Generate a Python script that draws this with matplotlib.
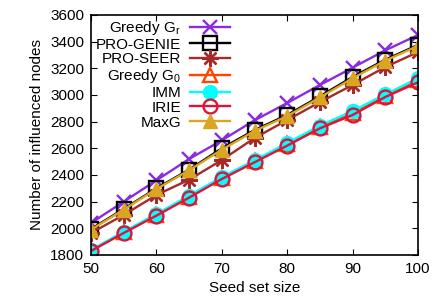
import numpy as np
import matplotlib
matplotlib.use('Agg')
import matplotlib.pyplot as plt

plt.rcParams['font.family'] = ['Liberation Sans', 'DejaVu Sans']
plt.rcParams['mathtext.fontset'] = 'custom'
plt.rcParams['mathtext.rm'] = 'Liberation Sans'
plt.rcParams['mathtext.it'] = 'Liberation Sans'

seeds = [50, 55, 60, 65, 70, 75, 80, 85, 90, 95, 100]
greedy_gr = [2040, 2200, 2360, 2520, 2660, 2810, 2940, 3075, 3205, 3335, 3450]
pro_genie = [1995, 2145, 2300, 2440, 2600, 2737, 2850, 2990, 3135, 3265, 3375]
pro_seer = [1965, 2100, 2250, 2365, 2512, 2677, 2812, 2947, 3075, 3210, 3322]
greedy_g0 = [1835, 1970, 2100, 2238, 2378, 2502, 2630, 2760, 2865, 2995, 3110]
imm = [1838, 1975, 2108, 2245, 2385, 2510, 2640, 2770, 2880, 3005, 3125]
irie = [1830, 1965, 2095, 2230, 2370, 2495, 2620, 2750, 2850, 2985, 3095]
maxg = [1990, 2140, 2295, 2435, 2590, 2730, 2842, 2982, 3125, 3258, 3368]

fig = plt.figure(figsize=(4.35, 3.03), dpi=100)
ax = fig.add_axes([91/435, 48/303, 327/435, 240/303])

ms = 10
lw = 1.7
ax.plot(seeds, greedy_gr, color='#8a2be2', marker='x', ms=ms, mew=1.7, lw=lw, label='Greedy G$_r$')
ax.plot(seeds, pro_genie, color='black', marker='s', mfc='none', ms=ms, mew=1.7, lw=lw, label='PRO-GENIE')
ax.plot(seeds, pro_seer, color='#a52a2a', marker=(8, 2, 0), ms=ms + 2, mew=1.7, lw=lw, label='PRO-SEER')
ax.plot(seeds, greedy_g0, color='#ff4500', marker='^', mfc='none', ms=ms, mew=1.7, lw=lw, label='Greedy G$_0$')
ax.plot(seeds, imm, color='#00ffff', marker='o', ms=ms, lw=lw, label='IMM')
ax.plot(seeds, irie, color='#dc143c', marker='o', mfc='none', ms=ms, mew=1.7, lw=lw, label='IRIE')
ax.plot(seeds, maxg, color='#daa520', marker='^', ms=ms, lw=lw, label='MaxG')

ax.set_xlim(50, 100)
ax.set_ylim(1800, 3600)
ax.set_xticks([50, 60, 70, 80, 90, 100])
ax.set_yticks(np.arange(1800, 3601, 200))
ax.tick_params(direction='in', top=True, right=True, labelsize=11, length=4, pad=5)
for s in ax.spines.values():
    s.set_linewidth(1.2)

ax.set_xlabel('Seed set size', fontsize=11)
ax.set_ylabel('Number of influenced nodes', fontsize=11)

leg = ax.legend(loc='upper left', bbox_to_anchor=(0.01, 0.99), frameon=False, fontsize=11,
                markerfirst=False, labelspacing=0.05, handlelength=2.6, handletextpad=0.6,
                borderpad=0.1, borderaxespad=0)
for t in leg.get_texts():
    t.set_ha('right')

fig.savefig('out.png', dpi=100)
